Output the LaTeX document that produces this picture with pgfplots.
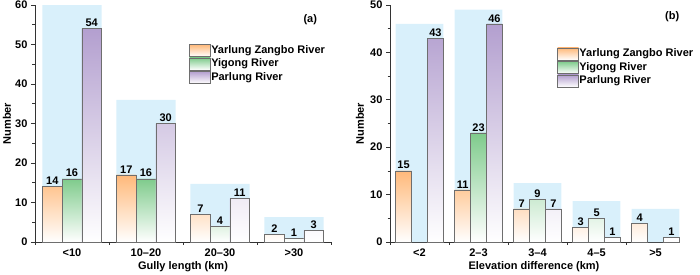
\documentclass[border=0pt]{standalone}
\usepackage{pgfplots}
\pgfplotsset{compat=1.18}
\usepackage{fontspec}
\setmainfont{Liberation Sans}
\definecolor{bgblue}{HTML}{D9F0FB}
\definecolor{orT}{HTML}{FFB97A}
\definecolor{grT}{HTML}{7FCB8C}
\definecolor{puT}{HTML}{B39FCF}
\definecolor{barline}{HTML}{6E6E6E}
\definecolor{axcol}{HTML}{333333}
\newcommand{\fs}{\fontsize{11}{12}\selectfont\bfseries}
\pgfplotsset{
  mystyle/.style={
    scale only axis,
    axis x line*=bottom, axis y line*=left,
    axis line style={-, draw=axcol, line width=0.8pt},
    tick align=outside,
    ymin=0,
    xmin=-0.5,
    xtick={0,1,2,3,4},
    major x tick style={draw=none},
    x tick style={draw=axcol, line width=0.8pt},
    y tick style={draw=axcol, line width=0.8pt},
    major tick length=4pt, minor tick length=2.5pt,
    minor y tick num=1,
    ytick distance=10,
    /pgf/number format/assume math mode=true,
    ticklabel style={font=\fs},
    xticklabel style={yshift=1pt},
    label style={font=\fs},
    ylabel={Number},
    xlabel style={at={(rel axis cs:0.5,0)}, anchor=center, yshift=-25pt},
    legend cell align=left,
    legend style={draw=none, fill=none, font=\fs, row sep=0.5pt,
                  nodes={inner sep=0.5pt, text height=9pt, text depth=3pt}},
    nodes near coords style={font=\fs, inner sep=1.5pt},
    clip=false,
  },
  orbar/.style={ybar, bar width=#1, bar shift=0, fill=orT, top color=orT, bottom color=white, draw=barline, line width=0.6pt,
    nodes near coords,
    legend image code/.code={\draw[draw=barline, top color=orT, bottom color=white, line width=0.6pt] (0pt,-6pt) rectangle (21pt,6pt);}},
  grbar/.style={ybar, bar width=#1, bar shift=0, fill=grT, top color=grT, bottom color=white, draw=barline, line width=0.6pt,
    nodes near coords,
    legend image code/.code={\draw[draw=barline, top color=grT, bottom color=white, line width=0.6pt] (0pt,-6pt) rectangle (21pt,6pt);}},
  pubar/.style={ybar, bar width=#1, bar shift=0, fill=puT, top color=puT, bottom color=white, draw=barline, line width=0.6pt,
    nodes near coords,
    legend image code/.code={\draw[draw=barline, top color=puT, bottom color=white, line width=0.6pt] (0pt,-6pt) rectangle (21pt,6pt);}},
}
\begin{document}
\begin{tikzpicture}[x=1pt,y=1pt]
\useasboundingbox (0,0) rectangle (700,274);
% ---------- (a) ----------
\begin{axis}[mystyle,
  at={(35pt,32pt)}, anchor=south west,
  width=296pt, height=237pt,
  xmax=3.5, ymax=60,
  xticklabels={<10,10–20,20–30,>30},
  minor xtick={-0.5,0.5,1.5,2.5,3.5},
  xlabel={Gully length (km)},
  ylabel style={at={(rel axis cs:-0.095,0.5)}, anchor=center},
  legend style={at={(rel axis cs:0.51,0.845)}, anchor=north west},
]
\addplot[ybar, bar width=0.8, bar shift=0, fill=bgblue, draw=none, forget plot]
  coordinates {(0,60) (1,36) (2,14.7) (3,6.3)};
\addplot[orbar=0.266] coordinates {(-0.266,14) (0.734,17) (1.734,7) (2.734,2)};
\addplot[grbar=0.266] coordinates {(0,16) (1,16) (2,4) (3,1)};
\addplot[pubar=0.266] coordinates {(0.266,54) (1.266,30) (2.266,11) (3.266,3)};
\legend{Yarlung Zangbo River, Yigong River, Parlung River}
\node[font=\fs] at (rel axis cs:0.93,0.94) {(a)};
\end{axis}
% ---------- (b) ----------
\begin{axis}[mystyle,
  at={(390pt,32pt)}, anchor=south west,
  width=288pt, height=237pt,
  xmax=4.38, ymax=50,
  xticklabels={<2,2–3,3–4,4–5,>5},
  minor xtick={-0.5,0.5,1.5,2.5,3.5},
  extra x ticks={4.38}, extra x tick labels={},
  extra x tick style={major tick length=2.5pt},
  xlabel={Elevation difference (km)},
  ylabel style={at={(rel axis cs:-0.104,0.5)}, anchor=center},
  legend style={at={(rel axis cs:0.57,0.83)}, anchor=north west},
]
\addplot[ybar, bar width=0.81, bar shift=0, fill=bgblue, draw=none, forget plot]
  coordinates {(0,46) (1,49) (2,12.4) (3,8.6) (4,7.0)};
\addplot[orbar=0.27] coordinates {(-0.27,15) (0.73,11) (1.73,7) (2.73,3) (3.73,4)};
\addplot[grbar=0.27] coordinates {(1,23) (2,9) (3,5)};
\addplot[pubar=0.27] coordinates {(0.27,43) (1.27,46) (2.27,7) (3.27,1) (4.27,1)};
\legend{Yarlung Zangbo River, Yigong River, Parlung River}
\node[font=\fs] at (rel axis cs:0.98,0.95) {(b)};
\end{axis}
\end{tikzpicture}
\end{document}
